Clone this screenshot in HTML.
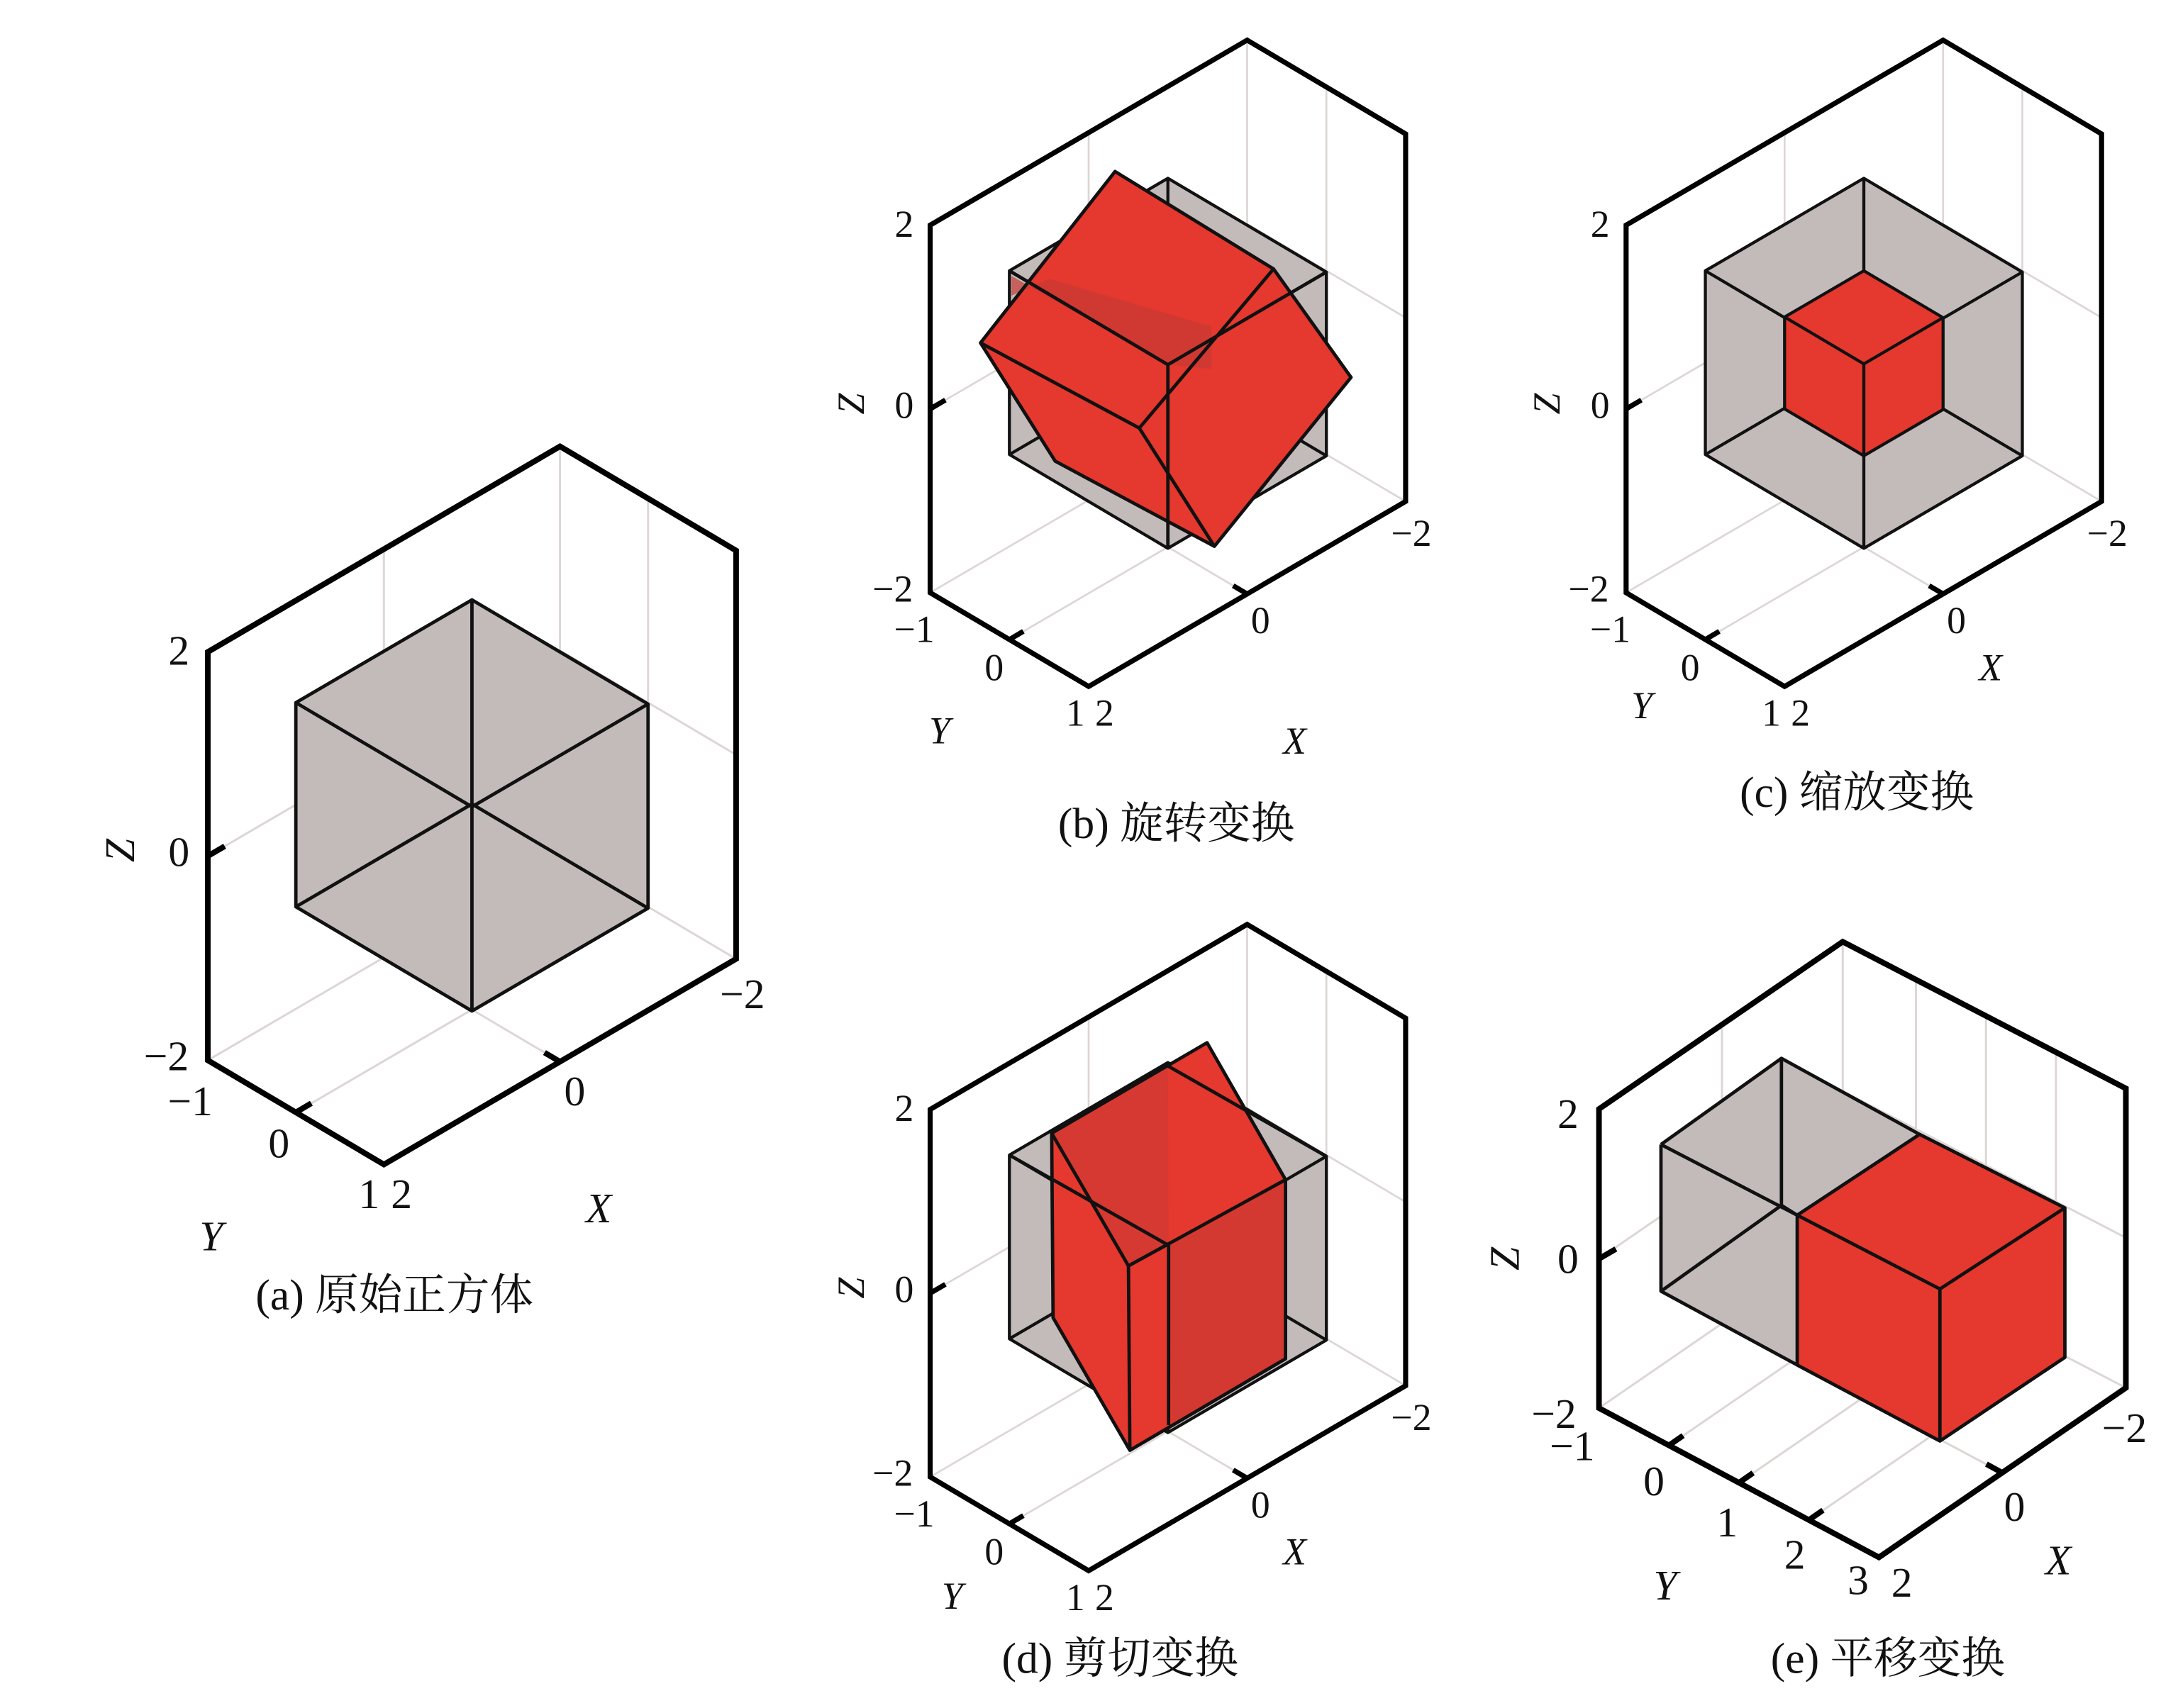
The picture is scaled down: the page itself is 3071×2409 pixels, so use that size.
<!DOCTYPE html>
<html><head><meta charset="utf-8">
<style>
html,body{margin:0;padding:0;background:#fff;}
svg{display:block;}
.t{font-family:"Liberation Serif","Noto Serif CJK SC",serif;font-size:30px;fill:#111;text-anchor:middle;dominant-baseline:central;}
.i{font-style:italic;}
.cap{font-family:"Liberation Serif","Noto Serif CJK SC",serif;font-size:31px;fill:#111;text-anchor:middle;dominant-baseline:central;}
.g{stroke:#dcd6d5;stroke-width:1.5;fill:none;}
.a{stroke:#000;stroke-width:4;fill:none;stroke-linejoin:miter;}
.k{stroke:#000;stroke-width:4;fill:none;}
.e{stroke:#111;stroke-width:2.4;fill:none;stroke-linejoin:round;}
.gc{fill:#c2bbba;}
.r{fill:#e5382e;}
</style></head><body>
<svg xmlns="http://www.w3.org/2000/svg" width="3071" height="2409" viewBox="0 0 1546 1213" preserveAspectRatio="none">
<defs>
<g id="axes">
 <path class="g" d="M-187.5,181 L62.5,35 L187.5,109 M62.5,-255 V35 M-187.5,36 L62.5,-110 L187.5,-36 M-62.5,108 L62.5,182 M-62.5,108 V-182 M-125,218 L125,72 M125,72 V-218"/>
 <path class="a" d="M-187.5,181 V-109 L62.5,-255 L187.5,-181 V109 L-62.5,255 Z"/>
 <path class="k" d="M-187.5,36 l12,-7 M-125,218 l11,-6.5 M62.5,182 l-11,-6.5"/>
</g>
<g id="gcube">
 <polygon class="gc" points="0,-146 125,-72 125,73 0,146 -125,72 -125,-73"/>
</g>
<path id="gedges" class="e" d="M0,-146 L125,-72 L125,73 L0,146 L-125,72 L-125,-73 Z M0,1 L-125,-73 M0,1 L125,-72 M0,1 L0,146 M0,-1 L0,-146 M0,-1 L-125,72 M0,-1 L125,73"/>
</defs>

<!-- Panel a -->
<g transform="translate(335,572)">
 <use href="#axes"/><use href="#gcube"/><use href="#gedges"/>
 <text class="t" x="-208" y="-110">2</text>
 <text class="t" x="-208" y="33">0</text>
 <text class="t" x="-217" y="178">−2</text>
 <text class="t i" transform="translate(-250,32) rotate(-90)">Z</text>
 <text class="t" x="-200" y="210">−1</text>
 <text class="t" x="-137" y="240">0</text>
 <text class="t" x="-73" y="276">1</text>
 <text class="t" x="-50" y="276">2</text>
 <text class="t" x="73" y="203">0</text>
 <text class="t" x="192" y="134">−2</text>
 <text class="t i" x="-185" y="306">Y</text>
 <text class="t i" x="90" y="286">X</text>
</g>
<text class="cap" x="280" y="920">(a) 原始正方体</text>

<!-- Panel b -->
<g transform="translate(829,258) scale(0.9)">
 <use href="#axes"/><use href="#gcube"/><use href="#gedges"/>
 <text class="t" x="-208" y="-110">2</text>
 <text class="t" x="-208" y="33">0</text>
 <text class="t" x="-217" y="178">−2</text>
 <text class="t i" transform="translate(-250,32) rotate(-90)">Z</text>
 <text class="t" x="-200" y="210">−1</text>
 <text class="t" x="-137" y="240">0</text>
 <text class="t" x="-73" y="276">1</text>
 <text class="t" x="-50" y="276">2</text>
 <text class="t" x="73" y="203">0</text>
 <text class="t" x="192" y="134">−2</text>
 <text class="t i" x="-180" y="290">Y</text>
 <text class="t i" x="100" y="298">X</text>
</g>
<polygon class="r" points="696,243.5 791.5,121.8 904,191 959,268 862,388 749,327.5"/>
<polygon fill="#c73b34" opacity="0.7" points="718,210 745,198 860,232 860,262 829,259 718,196"/>
<path class="e" d="M716.5,192.3 L829,259 L941.5,193.2 M829,259 L829,389.4"/>
<path class="e" d="M696,243.5 L791.5,121.8 L904,191 L959,268 L862,388 L749,327.5 Z M696,243.5 L808.7,304 L904,191 M808.7,304 L862,388"/>
<text class="cap" x="835" y="585">(b) 旋转变换</text>

<!-- Panel c -->
<g transform="translate(1323,258) scale(0.9)">
 <use href="#axes"/><use href="#gcube"/><use href="#gedges"/>
 <polygon class="r" points="0,-73 62.5,-36 62.5,36.5 0,73 -62.5,36 -62.5,-36.5"/>
 <path class="e" d="M0,-73 L62.5,-36 L62.5,36.5 L0,73 L-62.5,36 L-62.5,-36.5 Z M0,0.5 L-62.5,-36.5 M0,0.5 L62.5,-36 M0,0.5 L0,73"/>
 <text class="t" x="-208" y="-110">2</text>
 <text class="t" x="-208" y="33">0</text>
 <text class="t" x="-217" y="178">−2</text>
 <text class="t i" transform="translate(-250,32) rotate(-90)">Z</text>
 <text class="t" x="-200" y="210">−1</text>
 <text class="t" x="-137" y="240">0</text>
 <text class="t" x="-73" y="276">1</text>
 <text class="t" x="-50" y="276">2</text>
 <text class="t" x="73" y="203">0</text>
 <text class="t" x="192" y="134">−2</text>
 <text class="t i" x="-175" y="270">Y</text>
 <text class="t i" x="100" y="240">X</text>
</g>
<text class="cap" x="1318" y="563">(c) 缩放变换</text>

<!-- Panel d -->
<g transform="translate(829,886) scale(0.9)">
 <use href="#axes"/><use href="#gcube"/><use href="#gedges"/>
 <text class="t" x="-208" y="-110">2</text>
 <text class="t" x="-208" y="33">0</text>
 <text class="t" x="-217" y="178">−2</text>
 <text class="t i" transform="translate(-250,32) rotate(-90)">Z</text>
 <text class="t" x="-200" y="210">−1</text>
 <text class="t" x="-137" y="240">0</text>
 <text class="t" x="-73" y="276">1</text>
 <text class="t" x="-50" y="276">2</text>
 <text class="t" x="73" y="203">0</text>
 <text class="t" x="192" y="134">−2</text>
 <text class="t i" x="-170" y="275">Y</text>
 <text class="t i" x="100" y="240">X</text>
</g>
<polygon class="r" points="746.5,804.8 856.8,740.5 912.5,837.8 912.5,965 802,1030 747.5,935.8"/>
<polygon fill="#c83a33" opacity="0.6" points="829.5,884.4 912.5,837.8 912.5,965 831.7,1010.6"/>
<polygon fill="#c83a33" opacity="0.5" points="746.5,804.8 829,757 829.5,884.4 801,899"/>
<path class="e" d="M746.5,804.8 L856.8,740.5 L912.5,837.8 L912.5,965 L802,1030 L747.5,935.8 Z M746.5,804.8 L801,899 L912.5,837.8 M801,899 L802,1030 M716.5,820.3 L829.5,884.4 L829.5,1012 M829,757 L941.5,821.2"/>
<text class="cap" x="795" y="1178">(d) 剪切变换</text>

<!-- Panel e -->
<path class="g" d="M1135,1000 L1308,881 L1509,985.6 M1308,668.8 V881 M1135,894 L1308,775 L1509,879 M1184.7,1026.5 l175.3,-120.4 v-212 M1234.4,1053 l175.3,-120.4 v-212 M1284,1079.5 l175.3,-120.4 v-212 M1421,1045.8 L1222.3,939.8 V727"/>
<path class="a" d="M1135,1000 V787.6 L1308,668.8 L1509,773 V985.6 L1333.7,1106 Z"/>
<path class="k" d="M1135,894 l12,-7 M1184.7,1026.5 l10,-7 M1234.4,1053 l10,-7 M1284,1079.5 l10,-7 M1421,1045.8 l-11,-6"/>
<polygon class="gc" points="1179,812.8 1264.5,751.6 1362.6,805.6 1275.7,863 1275.7,969.4 1179,917"/>
<polygon class="r" points="1275.7,863 1362.6,805.6 1465.7,857.8 1465.7,964 1377,1023.4 1275.7,969.4"/>
<path class="e" d="M1179,812.8 L1264.5,751.6 L1362.6,805.6 M1179,812.8 V917 L1275.7,969.4 M1179,812.8 L1275.7,863 M1264.5,751.6 V856 L1179,917 M1264.5,856 L1275.7,863"/>
<path class="e" d="M1275.7,863 L1362.6,805.6 L1465.7,857.8 L1465.7,964 L1377,1023.4 L1275.7,969.4 Z M1275.7,863 L1377,915.4 L1465.7,857.8 M1377,915.4 V1023.4"/>
<text class="t" x="1113" y="791">2</text>
<text class="t" x="1113" y="894">0</text>
<text class="t" x="1103" y="1004">−2</text>
<text class="t i" transform="translate(1068,894) rotate(-90)">Z</text>
<text class="t" x="1116" y="1027">−1</text>
<text class="t" x="1174" y="1052">0</text>
<text class="t" x="1226" y="1081">1</text>
<text class="t" x="1274" y="1104">2</text>
<text class="t" x="1319" y="1122">3</text>
<text class="t" x="1350" y="1124">2</text>
<text class="t" x="1430" y="1070">0</text>
<text class="t" x="1508" y="1014">−2</text>
<text class="t i" x="1182" y="1126">Y</text>
<text class="t i" x="1461" y="1108">X</text>
<text class="cap" x="1340" y="1178">(e) 平移变换</text>
</svg>
</body></html>
